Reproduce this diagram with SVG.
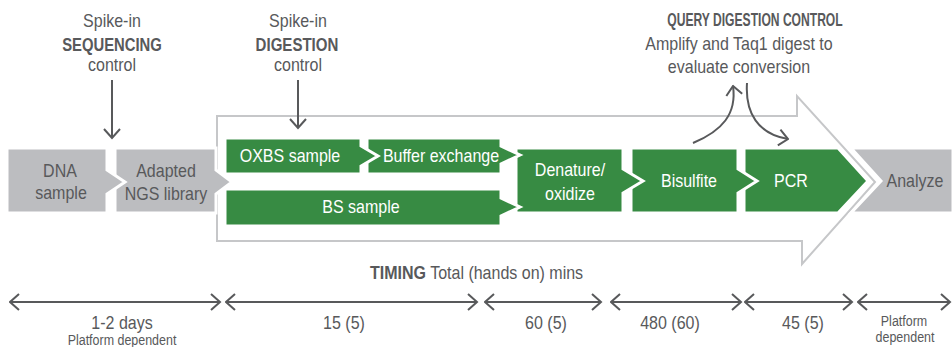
<svg xmlns="http://www.w3.org/2000/svg" width="952" height="347" viewBox="0 0 952 347">
<style>
  text { font-family: "Liberation Sans", Arial, sans-serif; font-size: 18px; fill: #58595b; }
  .b { font-weight: bold; }
  .w { fill: #ffffff; }
  .c { text-anchor: middle; }
  .sm { font-size: 14px; }
  .gray { fill: #bcbdc0; stroke: #ffffff; stroke-width: 3; }
  .green { fill: #378b43; stroke: #ffffff; stroke-width: 3; }
  .ln { fill: none; stroke: #58595b; stroke-width: 2; }
</style>
<defs>
  <marker id="ah" viewBox="0 0 12 18" refX="10.5" refY="9" markerWidth="12" markerHeight="18" markerUnits="userSpaceOnUse" orient="auto-start-reverse">
    <path d="M1.5,1 L10.5,9 L1.5,17" fill="none" stroke="#58595b" stroke-width="2"/>
  </marker>
</defs>

<g id="frame">
  <path d="M217,116 L797,116 L797,96 L875,182 L802,264 L802,241 L217,241 Z" fill="none" stroke="#c6c7c9" stroke-width="2"/>
</g>

<g id="analyze">
  <polygon class="gray" points="851,148 953,148 953,213 851,213 881,181"/>
  <text transform="translate(915 187) scale(0.89 1)" class="c">Analyze</text>
</g>
<g id="pcr">
  <polygon class="green" points="744,148 838,148 868,181 838,213 744,213"/>
  <text transform="translate(791 187) scale(0.89 1)" class="c w">PCR</text>
</g>
<g id="bisulfite">
  <polygon class="green" points="631,148 738,148 738,169 757,181 738,193 738,213 631,213"/>
  <text transform="translate(689 187) scale(0.89 1)" class="c w">Bisulfite</text>
</g>
<g id="denature">
  <polygon class="green" points="516,148 623,148 623,169 643,181 623,193 623,213 516,213"/>
  <text transform="translate(570 176) scale(0.89 1)" class="c w">Denature/</text>
  <text transform="translate(570 200) scale(0.89 1)" class="c w">oxidize</text>
</g>
<g id="buffer">
  <polygon class="green" points="367,138 501,138 501,146 520,155 501,164 501,174 367,174"/>
  <text transform="translate(441 162) scale(0.89 1)" class="c w">Buffer exchange</text>
</g>
<g id="bs">
  <polygon class="green" points="225,189 501,189 501,198 520,207 501,216 501,226 225,226"/>
  <text transform="translate(361 213) scale(0.89 1)" class="c w">BS sample</text>
</g>
<g id="oxbs">
  <polygon class="green" points="225,138 361,138 361,146 378,156 361,166 361,174 225,174"/>
  <text transform="translate(290 162) scale(0.89 1)" class="c w">OXBS sample</text>
</g>
<g id="adapted">
  <polygon class="gray" points="115,148 216,148 216,170 232,182 216,194 216,213 115,213"/>
  <text transform="translate(166 177) scale(0.89 1)" class="c">Adapted</text>
  <text transform="translate(166 200) scale(0.89 1)" class="c">NGS library</text>
</g>
<g id="dna">
  <polygon class="gray" points="7,148 107,148 107,170 125,182 107,194 107,213 7,213"/>
  <text transform="translate(60 177) scale(0.89 1)" class="c">DNA</text>
  <text transform="translate(61 199) scale(0.89 1)" class="c">sample</text>
</g>

<g id="seq-control">
  <text transform="translate(112 27) scale(0.89 1)" class="c">Spike-in</text>
  <text transform="translate(112 51) scale(0.89 1)" class="c b" textLength="112" lengthAdjust="spacingAndGlyphs">SEQUENCING</text>
  <text transform="translate(112 71) scale(0.89 1)" class="c">control</text>
</g>
<g id="dig-control">
  <text transform="translate(298 27) scale(0.89 1)" class="c">Spike-in</text>
  <text transform="translate(297 51) scale(0.89 1)" class="c b" textLength="93" lengthAdjust="spacingAndGlyphs">DIGESTION</text>
  <text transform="translate(298 71) scale(0.89 1)" class="c">control</text>
</g>
<g id="query-control">
  <text transform="translate(755 26) scale(0.89 1)" class="c b" textLength="197" lengthAdjust="spacingAndGlyphs">QUERY DIGESTION CONTROL</text>
  <text transform="translate(739 50) scale(0.89 1)" class="c">Amplify and Taq1 digest to</text>
  <text transform="translate(739 73) scale(0.89 1)" class="c">evaluate conversion</text>
</g>

<g id="connectors">
  <line class="ln" x1="112" y1="80" x2="112" y2="138" marker-end="url(#ah)"/>
  <line class="ln" x1="298" y1="80" x2="298" y2="128" marker-end="url(#ah)"/>
  <path class="ln" d="M693,143 C722,131 737,114 733,86" marker-end="url(#ah)"/>
  <path class="ln" d="M747,83 C745,113 758,134 788,139" marker-end="url(#ah)"/>
</g>

<g id="timing">
  <text transform="translate(370 279) scale(0.89 1)"><tspan class="b">TIMING</tspan> Total (hands on) mins</text>
  <g id="timeline">
    <line class="ln" x1="10" y1="302" x2="220" y2="302" marker-start="url(#ah)" marker-end="url(#ah)"/>
    <line class="ln" x1="226" y1="302" x2="477" y2="302" marker-start="url(#ah)" marker-end="url(#ah)"/>
    <line class="ln" x1="485" y1="302" x2="601" y2="302" marker-start="url(#ah)" marker-end="url(#ah)"/>
    <line class="ln" x1="611" y1="302" x2="741" y2="302" marker-start="url(#ah)" marker-end="url(#ah)"/>
    <line class="ln" x1="745" y1="302" x2="852" y2="302" marker-start="url(#ah)" marker-end="url(#ah)"/>
    <line class="ln" x1="858" y1="302" x2="950" y2="302" marker-start="url(#ah)" marker-end="url(#ah)"/>
  </g>
  <text transform="translate(122 329) scale(0.89 1)" class="c">1-2 days</text>
  <text transform="translate(122 345) scale(0.89 1)" class="c sm">Platform dependent</text>
  <text transform="translate(344 329) scale(0.89 1)" class="c">15 (5)</text>
  <text transform="translate(546 329) scale(0.89 1)" class="c">60 (5)</text>
  <text transform="translate(670 329) scale(0.89 1)" class="c">480 (60)</text>
  <text transform="translate(803 329) scale(0.89 1)" class="c">45 (5)</text>
  <text transform="translate(904 326) scale(0.89 1)" class="c sm">Platform</text>
  <text transform="translate(905 342) scale(0.89 1)" class="c sm">dependent</text>
</g>
</svg>
